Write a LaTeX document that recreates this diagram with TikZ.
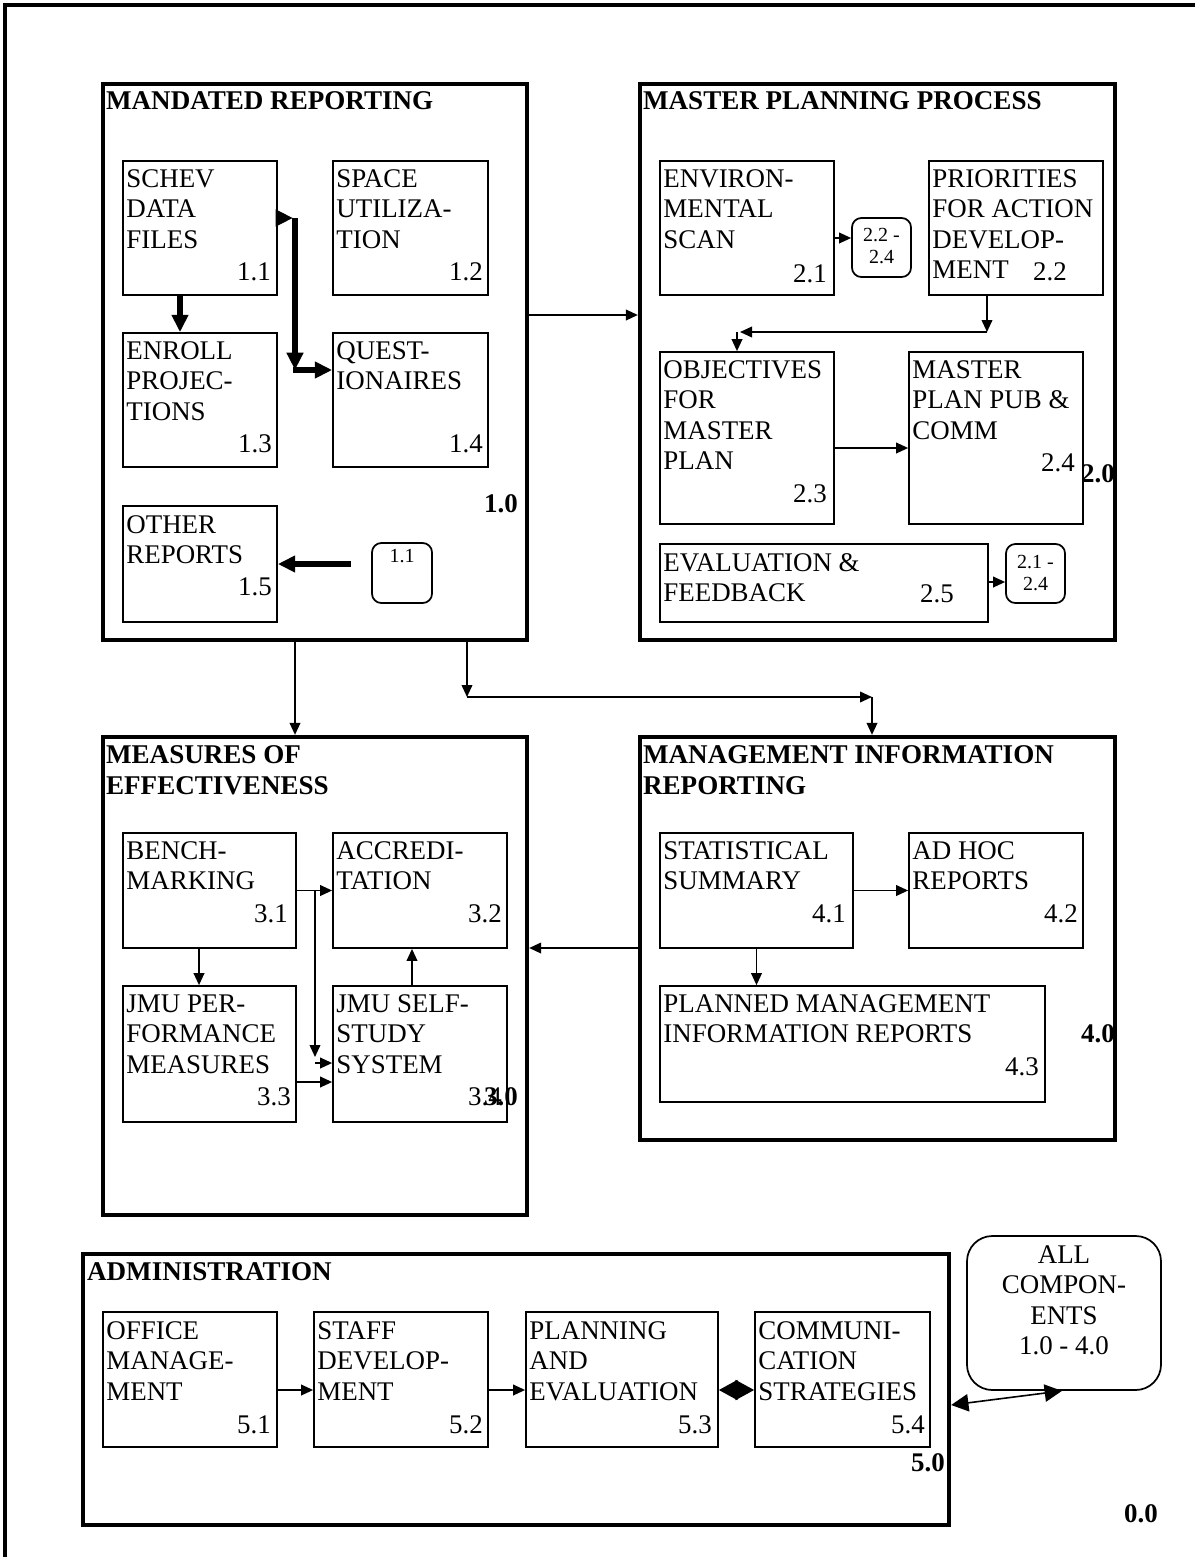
\documentclass[tikz,border=0pt]{standalone}
\usepackage{fontspec}
\setmainfont{Liberation Serif}
\usetikzlibrary{arrows.meta,fit,positioning}

% lines of a box text, first baseline on the anchor
\newcommand{\lns}[1]{\begin{tabular}[t]{@{}l@{}}#1\end{tabular}}
\newcommand{\clns}[1]{\begin{tabular}[t]{@{}c@{}}#1\end{tabular}}

\tikzset{
  grp/.style={draw,line width=3.2pt,inner sep=0pt},
  pbox/.style={draw,line width=1.3pt,inner sep=0pt},
  rbox/.style={draw,line width=1.3pt,inner sep=0pt,rounded corners=7pt},
  btext/.style={anchor=base west,inner sep=0pt,font=\fontsize{20.2}{22.9}\selectfont},
  ttext/.style={anchor=base west,inner sep=0pt,font=\bfseries\fontsize{20.3}{23.2}\selectfont},
  ntext/.style={anchor=base east,inner sep=0pt,font=\fontsize{20.2}{22.9}\selectfont},
  nbold/.style={anchor=base east,inner sep=0pt,font=\bfseries\fontsize{20.2}{22.9}\selectfont},
  stext/.style={anchor=base,inner sep=0pt,font=\fontsize{15}{16.5}\selectfont},
  arr/.style={-{Triangle[length=9pt,width=8pt]},line width=1.2pt},
  bigarr/.style={-{Triangle[length=13pt,width=12pt]},line width=3.8pt},
}

\begin{document}
\begin{tikzpicture}[x=0.75pt,y=-0.75pt]
\useasboundingbox (0,0) rectangle (1195,1557);
%    \draw[orange,thin] (0,0) grid[step=100] (1195,1557);

    % outer frame
    \draw[line width=3.2pt] (5,1557) -- (5,5) -- (1195,5);

    % 1.0 mandated reporting
    \node[grp,fit={(103,84) (527,640)}] (mr) {};
    \node[ttext] (mrt) at ([shift={(5,28)}]mr.north west) {MANDATED REPORTING};
    \node[pbox,fit={(123,161) (277,295)}] (p11) {};
    \node[btext] (p11t) at ([shift={(4,27)}]p11.north west) {\lns{SCHEV\\DATA\\FILES}};
    \node[ntext] (n11) at (271,280) {1.1};
    \node[pbox,fit={(333,161) (488,295)}] (p12) {};
    \node[btext] (p12t) at ([shift={(4,27)}]p12.north west) {\lns{SPACE\\UTILIZA-\\TION}};
    \node[ntext] (n12) at (483,280) {1.2};
    \node[pbox,fit={(123,333) (277,467)}] (p13) {};
    \node[btext] (p13t) at ([shift={(4,27)}]p13.north west) {\lns{ENROLL\\PROJEC-\\TIONS}};
    \node[ntext] (n13) at (272,452) {1.3};
    \node[pbox,fit={(333,333) (488,467)}] (p14) {};
    \node[btext] (p14t) at ([shift={(4,27)}]p14.north west) {\lns{QUEST-\\IONAIRES}};
    \node[ntext] (n14) at (483,452) {1.4};
    \node[pbox,fit={(123,506) (277,622)}] (p15) {};
    \node[btext] (p15t) at ([shift={(4,28)}]p15.north west) {\lns{OTHER\\REPORTS}};
    \node[ntext] (n15) at (272,595) {1.5};
    \node[rbox,fit={(372,543) (432,603)}] (r11) {};
    \node[stext] (r11t) at (402,562) {1.1};
    \node[nbold] (n10) at (518,512) {1.0};

    \coordinate (q1) at (295,218);
    \coordinate (q2) at (295,370);
    \draw[bigarr] ([shift={(-20,0)}]p11.south) -- ([shift={(-20,0)}]p13.north);
    \draw[bigarr] (p11.east |- q1) -- ([shift={(-2,0)}]q1);
    \draw[bigarr] (q1) -- (q2);
    \draw[bigarr] ([shift={(-2,0)}]q2) -- (p14.west |- q2);
    \draw[bigarr] ([shift={(-20,0)}]r11.west |- p15.east) -- (p15.east);

    % 2.0 master planning process
    \node[grp,fit={(640,84) (1115,640)}] (mpp) {};
    \node[ttext] (mppt) at ([shift={(5,28)}]mpp.north west) {MASTER PLANNING PROCESS};
    \node[pbox,fit={(660,161) (834,295)}] (p21) {};
    \node[btext] (p21t) at ([shift={(4,27)}]p21.north west) {\lns{ENVIRON-\\MENTAL\\SCAN}};
    \node[ntext] (n21) at (827,282) {2.1};
    \node[pbox,fit={(929,161) (1103,295)}] (p22) {};
    \node[btext] (p22t) at ([shift={(4,27)}]p22.north west) {\lns{PRIORITIES\\FOR ACTION\\DEVELOP-\\MENT}};
    \node[ntext] (n22) at (1067,280) {2.2};
    \node[rbox,fit={(852,218) (911,277)}] (r22) {};
    \node[stext] (r22t) at (r22 |- 0,241) {\clns{2.2 -\\2.4}};
    \node[pbox,fit={(660,352) (834,524)}] (p23) {};
    \node[btext] (p23t) at ([shift={(4,27)}]p23.north west) {\lns{OBJECTIVES\\FOR\\MASTER\\PLAN}};
    \node[ntext] (n23) at (827,502) {2.3};
    \node[pbox,fit={(909,352) (1083,524)}] (p24) {};
    \node[btext] (p24t) at ([shift={(4,27)}]p24.north west) {\lns{MASTER\\PLAN PUB \&\\COMM}};
    \node[ntext] (n24) at (1075,471) {2.4};
    \node[pbox,fit={(660,544) (988,622)}] (p25) {};
    \node[btext] (p25t) at ([shift={(4,28)}]p25.north west) {\lns{EVALUATION \&\\FEEDBACK}};
    \node[ntext] (n25) at (954,602) {2.5};
    \node[rbox,fit={(1006,544) (1065,603)}] (r21) {};
    \node[stext] (r21t) at (r21 |- 0,568) {\clns{2.1 -\\2.4}};
    \node[nbold] (n20) at (1115,482) {2.0};

    \coordinate (q3) at (987,332);
    \coordinate (q4) at (737,332);
    \draw[arr] (p21.east |- 0,238) -- (r22.west |- 0,238);
    \draw[arr] (p22.south -| q3) -- (q3);
    \draw[arr] (q3) -- ([shift={(3,0)}]q4);
    \draw[arr] (q4) -- (p23.north -| q4);
    \draw[arr] (p23.east |- 0,448) -- (p24.west |- 0,448);
    \draw[arr] (p25.east |- 0,582) -- (r21.west |- 0,582);
    \draw[arr] (mr.east |- 0,315) -- (mpp.west |- 0,315);

    % 3.0 measures of effectiveness
    \node[grp,fit={(103,737) (527,1215)}] (moe) {};
    \node[ttext] (moet) at ([shift={(5,29)}]moe.north west) {\lns{MEASURES OF\\EFFECTIVENESS}};
    \node[pbox,fit={(123,833) (296,948)}] (p31) {};
    \node[btext] (p31t) at ([shift={(4,27)}]p31.north west) {\lns{BENCH-\\MARKING}};
    \node[ntext] (n31) at (288,922) {3.1};
    \node[pbox,fit={(333,833) (507,948)}] (p32) {};
    \node[btext] (p32t) at ([shift={(4,27)}]p32.north west) {\lns{ACCREDI-\\TATION}};
    \node[ntext] (n32) at (502,922) {3.2};
    \node[pbox,fit={(123,986) (296,1122)}] (p33) {};
    \node[btext] (p33t) at ([shift={(4,27)}]p33.north west) {\lns{JMU PER-\\FORMANCE\\MEASURES}};
    \node[ntext] (n33) at (291,1105) {3.3};
    \node[pbox,fit={(333,986) (507,1122)}] (p34) {};
    \node[btext] (p34t) at ([shift={(4,27)}]p34.north west) {\lns{JMU SELF-\\STUDY\\SYSTEM}};
    \node[ntext] (n34) at (502,1105) {3.4};
    \node[nbold] (n30) at (518,1105) {3.0};

    \coordinate (q7) at (315,890);
    \coordinate (q8) at (315,1057);
    \coordinate (q9) at (315,1063);
    \draw[arr] (p31.east) -- (p32.west);
    \draw[arr] (q7) -- (q8);
    \draw[arr] (q9) -- (p34.west |- q9);
    \draw[arr] (p31.south -| 199,0) -- (p33.north -| 199,0);
    \draw[arr] (p34.north -| 412,0) -- (p32.south -| 412,0);
    \draw[arr] (p33.east |- 0,1082) -- (p34.west |- 0,1082);

    % 4.0 management information reporting
    \node[grp,fit={(640,737) (1115,1140)}] (mir) {};
    \node[ttext] (mirt) at ([shift={(5,29)}]mir.north west) {\lns{MANAGEMENT INFORMATION\\REPORTING}};
    \node[pbox,fit={(660,833) (853,948)}] (p41) {};
    \node[btext] (p41t) at ([shift={(4,27)}]p41.north west) {\lns{STATISTICAL\\SUMMARY}};
    \node[ntext] (n41) at (846,922) {4.1};
    \node[pbox,fit={(909,833) (1083,948)}] (p42) {};
    \node[btext] (p42t) at ([shift={(4,27)}]p42.north west) {\lns{AD HOC\\REPORTS}};
    \node[ntext] (n42) at (1078,922) {4.2};
    \node[pbox,fit={(660,986) (1045,1102)}] (p43) {};
    \node[btext] (p43t) at ([shift={(4,27)}]p43.north west) {\lns{PLANNED MANAGEMENT\\INFORMATION REPORTS}};
    \node[ntext] (n43) at (1039,1075) {4.3};
    \node[nbold] (n40) at (1115,1042) {4.0};

    \draw[arr] (p41.east) -- (p42.west);
    \draw[arr] (p41.south) -- (p43.north -| p41.south);

    % links between the components
    \coordinate (q5) at (467,697);
    \coordinate (q6) at (872,697);
    \draw[arr] (mr.south -| 295,0) -- (moe.north -| 295,0);
    \draw[arr] (mr.south -| q5) -- (q5);
    \draw[arr] (q5) -- (q6);
    \draw[arr] (q6) -- (mir.north -| q6);
    \draw[arr] (mir.west |- 0,948) -- (moe.east |- 0,948);

    % 5.0 administration
    \node[grp,fit={(83,1254) (949,1525)}] (adm) {};
    \node[ttext] (admt) at ([shift={(6,29)}]adm.north west) {ADMINISTRATION};
    \node[pbox,fit={(103,1312) (277,1447)}] (p51) {};
    \node[btext] (p51t) at ([shift={(4,28)}]p51.north west) {\lns{OFFICE\\MANAGE-\\MENT}};
    \node[ntext] (n51) at (271,1433) {5.1};
    \node[pbox,fit={(314,1312) (488,1447)}] (p52) {};
    \node[btext] (p52t) at ([shift={(4,28)}]p52.north west) {\lns{STAFF\\DEVELOP-\\MENT}};
    \node[ntext] (n52) at (483,1433) {5.2};
    \node[pbox,fit={(526,1312) (718,1447)}] (p53) {};
    \node[btext] (p53t) at ([shift={(4,28)}]p53.north west) {\lns{PLANNING\\AND\\EVALUATION}};
    \node[ntext] (n53) at (712,1433) {5.3};
    \node[pbox,fit={(755,1312) (930,1447)}] (p54) {};
    \node[btext] (p54t) at ([shift={(4,28)}]p54.north west) {\lns{COMMUNI-\\CATION\\STRATEGIES}};
    \node[ntext] (n54) at (925,1433) {5.4};
    \node[nbold] (n50) at (945,1471) {5.0};

    \draw[arr] (p51.east |- 0,1390) -- (p52.west |- 0,1390);
    \draw[arr] (p52.east |- 0,1390) -- (p53.west |- 0,1390);
    \draw[{Triangle[length=14pt,width=15pt]}-{Triangle[length=14pt,width=15pt]},line width=1.2pt]
        (p53.east |- 0,1390) -- (p54.west |- 0,1390);

    % all components
    \node[rbox,rounded corners=19pt,fit={(967,1236) (1161,1390)}] (allc) {};
    \node[btext,anchor=base] (allct) at (allc |- 0,1263) {\clns{ALL\\COMPON-\\ENTS\\1.0 - 4.0}};
    \draw[{Triangle[length=13pt,width=13pt]}-{Triangle[length=13pt,width=13pt]},line width=1.2pt]
        (adm.east |- 0,1405) -- ([shift={(-2,0)}]allc.south);

    \node[nbold] (n00) at (1158,1522) {0.0};

\end{tikzpicture}
\end{document}
